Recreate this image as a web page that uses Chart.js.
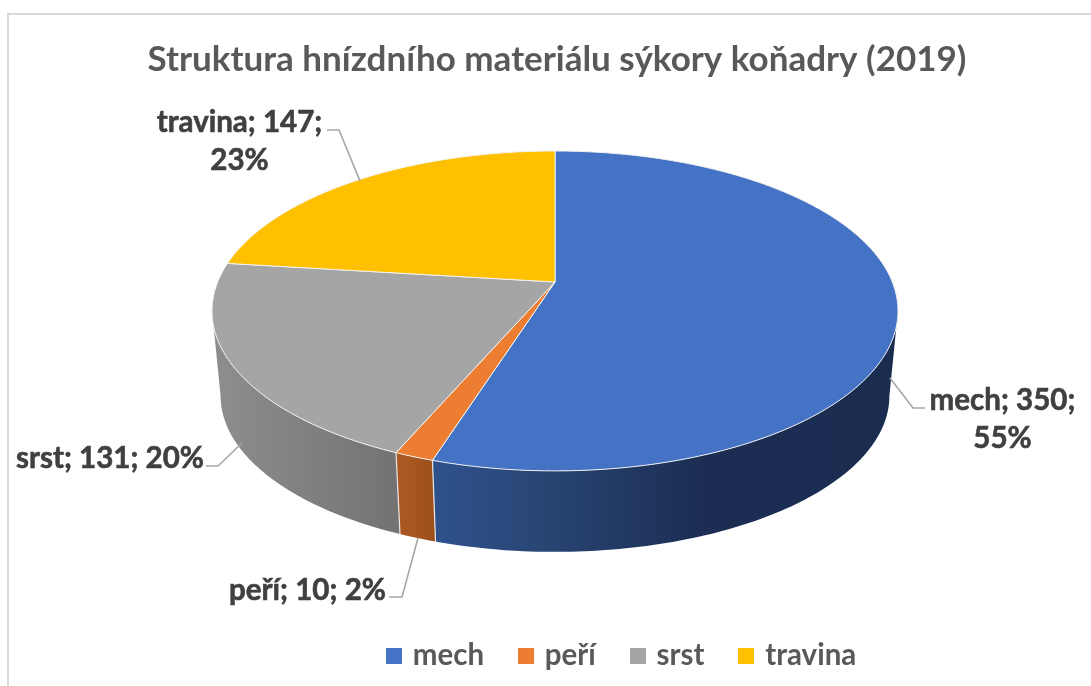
<!DOCTYPE html>
<html lang="cs">
<head>
<meta charset="utf-8">
<title>Struktura hnízdního materiálu</title>
<style>
html,body{margin:0;padding:0;background:#fff;overflow:hidden}
#frame{position:absolute;left:7px;top:13px;right:-5px;bottom:-5px;border-left:2px solid #d9d9d9;border-top:2px solid #d9d9d9;pointer-events:none}
#wrap{position:absolute;left:0;top:0;width:1091px;height:686px}
</style>
<script src="https://cdn.jsdelivr.net/npm/chart.js@4"></script>
</head>
<body>
<div id="frame"></div>
<div id="wrap"><canvas id="c" width="1091" height="686"></canvas></div>
<script>
const TITLE = 'Struktura hnízdního materiálu sýkory koňadry (2019)';
const categories = ['mech', 'peří', 'srst', 'travina'];
const values = [350, 10, 131, 147];
const percents = [55, 2, 20, 23];
const topColors = ['#4472c4', '#ed7d31', '#a5a5a5', '#ffc000'];

const FONT = 'Lato, "Open Sans", sans-serif';
const P = {cx: 555, apexY: 282, A: 337.3, B: 154.7, b: 0.181, wallApexY: 367.7, wallScale: 0.975};
const labelBreaks = [true, false, false, true];
const labelCenters = [[1002.5, 400, 438], [307.5, 590], [110, 458], [239.5, 122, 160]];
const leaders = [
  [[890, 378], [913, 408], [925, 408]],
  [[418, 538], [402, 597], [389, 597]],
  [[242, 443], [218, 466], [206, 466]],
  [[360, 181], [339, 130], [327, 130]]
];

const swatches = topColors.map(color => {
  const s = document.createElement('canvas');
  s.width = 16;
  s.height = 16;
  const g = s.getContext('2d');
  g.fillStyle = color;
  g.fillRect(0, 0, 16, 16);
  return s;
});

function topPt(a) {
  const d = 1 - P.b * Math.sin(a);
  return [P.cx + P.A * Math.cos(a) / d, P.apexY + P.B * Math.sin(a) / d];
}
function bottomPt(a) {
  const d = 1 - P.b * Math.sin(a);
  return [P.cx + P.wallScale * P.A * Math.cos(a) / d, P.wallApexY + P.wallScale * P.B * Math.sin(a) / d];
}
function wallFill(ctx, i) {
  const g = ctx.createLinearGradient(200, 0, 900, 0);
  const stops = [
    [[0.33, '#2f528d'], [0.52, '#27426f'], [0.72, '#1b2d52'], [1, '#1a2c50']],
    [[0, '#ad5a22'], [0.28, '#ad5a22'], [0.34, '#9b4f1b'], [1, '#9b4f1b']],
    [[0, '#909090'], [0.28, '#737373'], [1, '#737373']],
    [[0, '#bf9000'], [1, '#bf9000']]
  ][i];
  stops.forEach(s => g.addColorStop(s[0], s[1]));
  return g;
}

const tilted = {
  id: 'tilted',
  afterLayout(chart) {
    chart.legend.left = 390 - chart.legend.options.labels.padding;
    chart.legend.top = 603;
  },
  beforeDatasetDraw(chart, args) {
    const ctx = chart.ctx;
    const arcs = chart.getDatasetMeta(args.index).data;
    const step = Math.PI / 180;
    const fold = Math.asin(P.b);
    ctx.save();
    ctx.lineJoin = 'round';
    [0, 2, 1].forEach(i => {
      const lo = Math.max(arcs[i].startAngle, fold);
      const hi = Math.min(arcs[i].endAngle, Math.PI - fold);
      if (hi <= lo) return;
      const n = Math.max(2, Math.ceil((hi - lo) / step));
      ctx.beginPath();
      for (let k = 0; k <= n; k++) {
        const p = topPt(lo + (hi - lo) * k / n);
        k ? ctx.lineTo(p[0], p[1]) : ctx.moveTo(p[0], p[1]);
      }
      for (let k = n; k >= 0; k--) {
        const p = bottomPt(lo + (hi - lo) * k / n);
        ctx.lineTo(p[0], p[1]);
      }
      ctx.closePath();
      ctx.fillStyle = wallFill(ctx, i);
      ctx.fill();
    });
    // white seams on the side wall
    ctx.strokeStyle = '#e8e8e8';
    ctx.lineWidth = 1.2;
    [arcs[0].endAngle, arcs[1].endAngle].forEach(a => {
      const p = topPt(a), q = bottomPt(a);
      ctx.beginPath(); ctx.moveTo(p[0], p[1]); ctx.lineTo(q[0], q[1]); ctx.stroke();
    });
    // top surface
    arcs.forEach((arc, i) => {
      const n = Math.max(2, Math.ceil((arc.endAngle - arc.startAngle) / (step / 2)));
      ctx.beginPath();
      ctx.moveTo(P.cx, P.apexY);
      for (let k = 0; k <= n; k++) {
        const p = topPt(arc.startAngle + (arc.endAngle - arc.startAngle) * k / n);
        ctx.lineTo(p[0], p[1]);
      }
      ctx.closePath();
      ctx.fillStyle = topColors[i];
      ctx.fill();
      ctx.strokeStyle = '#f2f2f2';
      ctx.lineWidth = 1;
      ctx.stroke();
    });
    ctx.restore();
    return false;
  },
  afterDatasetsDraw(chart) {
    const ctx = chart.ctx;
    ctx.save();
    ctx.strokeStyle = '#a6a6a6';
    ctx.lineWidth = 1.6;
    leaders.forEach(l => {
      ctx.beginPath();
      l.forEach((p, k) => k ? ctx.lineTo(p[0], p[1]) : ctx.moveTo(p[0], p[1]));
      ctx.stroke();
    });
    ctx.fillStyle = '#404040';
    ctx.strokeStyle = '#404040';
    ctx.lineWidth = 0.6;
    ctx.font = 'bold 29.5px ' + FONT;
    ctx.textAlign = 'center';
    ctx.textBaseline = 'middle';
    categories.forEach((name, i) => {
      const head = name + '; ' + values[i] + ';';
      const pct = percents[i] + '%';
      const lines = labelBreaks[i] ? [head, pct] : [head + ' ' + pct];
      lines.forEach((t, k) => {
        ctx.fillText(t, labelCenters[i][0], labelCenters[i][k + 1]);
        ctx.strokeText(t, labelCenters[i][0], labelCenters[i][k + 1]);
      });
    });
    ctx.restore();
  }
};

new Chart(document.getElementById('c'), {
  type: 'pie',
  data: {
    labels: categories,
    datasets: [{data: values, backgroundColor: topColors, borderWidth: 0}]
  },
  plugins: [tilted],
  options: {
    responsive: false,
    animation: false,
    layout: {padding: {left: 23}},
    plugins: {
      tooltip: {enabled: false},
      title: {
        display: true,
        text: TITLE,
        color: '#595959',
        font: {family: FONT, size: 35, weight: 'bold'},
        padding: {top: 39, bottom: 10}
      },
      legend: {
        position: 'bottom',
        align: 'start',
        labels: {
          usePointStyle: true,
          pointStyleWidth: 8,
          boxHeight: 16,
          padding: 38,
          color: '#595959',
          font: {family: FONT, size: 29.5, weight: 'bold'},
          generateLabels: chart => Chart.overrides.pie.plugins.legend.labels.generateLabels(chart)
            .map((item, i) => Object.assign(item, {pointStyle: swatches[i]}))
        }
      }
    }
  }
});
</script>
</body>
</html>
